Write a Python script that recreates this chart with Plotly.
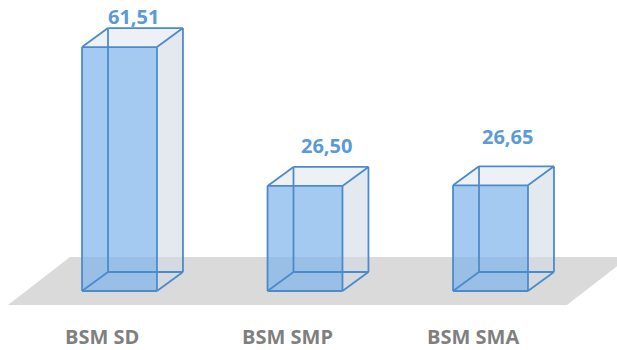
import plotly.graph_objects as go

# ---- data ----
categories = ["BSM SD", "BSM SMP", "BSM SMA"]
values = [61.51, 26.50, 26.65]

# ---- style / layout constants ----
W, H = 617, 350
BAR_W = 0.404          # front-face width (category units)
DEPTH_DX = 0.140       # perspective depth, x (category units)
DEPTH_DY = 4.79        # perspective depth, y (value units)
X_RANGE = [-0.6442, 2.6819]
Y_RANGE = [-14.876, 73.374]
FLOOR = dict(front_y=-3.53, back_y=8.57, fl=-0.601, bl=-0.267, fr=2.412, br=2.747)
LABEL_DX = [0.075, 0.116, 0.092]     # value-label horizontal shift
LABEL_DY = [2.9, 5.4, 7.6]           # value-label gap above the back top edge
CAT_DX = -0.097
CAT_Y = -11.5

EDGE = "#4C8BCB"
FRONT_FILL = "rgba(125,180,235,0.70)"
SIDE_FILL = "rgba(210,218,228,0.60)"
TOP_FILL = "rgba(228,234,240,0.65)"
FLOOR_FILL = "#DADADA"
VAL_COLOR = "#5B9BD5"
CAT_COLOR = "#7F7F7F"

fig = go.Figure()

# floor
fig.add_trace(go.Scatter(
    x=[FLOOR["fl"], FLOOR["fr"], FLOOR["br"], FLOOR["bl"], FLOOR["fl"]],
    y=[FLOOR["front_y"], FLOOR["front_y"], FLOOR["back_y"], FLOOR["back_y"], FLOOR["front_y"]],
    fill="toself", fillcolor=FLOOR_FILL, mode="lines", line=dict(width=0),
    hoverinfo="skip", showlegend=False))


def poly(xs, ys, fillcolor):
    fig.add_trace(go.Scatter(x=xs + [xs[0]], y=ys + [ys[0]], fill="toself",
                             fillcolor=fillcolor, mode="lines", line=dict(width=0),
                             hoverinfo="skip", showlegend=False))


for i, (cat, v) in enumerate(zip(categories, values)):
    x0, x1 = i - BAR_W / 2, i + BAR_W / 2
    bx0, bx1 = x0 + DEPTH_DX, x1 + DEPTH_DX
    y0, y1 = 0.0, v
    by0, by1 = y0 + DEPTH_DY, y1 + DEPTH_DY
    # right side face
    poly([x1, bx1, bx1, x1], [y0, by0, by1, y1], SIDE_FILL)
    # top face
    poly([x0, x1, bx1, bx0], [y1, y1, by1, by1], TOP_FILL)
    # front face
    poly([x0, x1, x1, x0], [y0, y0, y1, y1], FRONT_FILL)
    # wireframe edges (all 12)
    ex, ey = [], []
    segs = [
        ((x0, y0), (x1, y0)), ((x1, y0), (x1, y1)), ((x1, y1), (x0, y1)), ((x0, y1), (x0, y0)),
        ((bx0, by0), (bx1, by0)), ((bx1, by0), (bx1, by1)), ((bx1, by1), (bx0, by1)), ((bx0, by1), (bx0, by0)),
        ((x0, y0), (bx0, by0)), ((x1, y0), (bx1, by0)), ((x1, y1), (bx1, by1)), ((x0, y1), (bx0, by1)),
    ]
    for (a, b) in segs:
        ex += [a[0], b[0], None]
        ey += [a[1], b[1], None]
    fig.add_trace(go.Scatter(x=ex, y=ey, mode="lines", line=dict(color=EDGE, width=1.8),
                             hoverinfo="skip", showlegend=False))
    # value label
    fig.add_annotation(x=i + LABEL_DX[i], y=by1 + LABEL_DY[i],
                       text=f"<b>{v:.2f}</b>".replace(".", ","), showarrow=False,
                       xanchor="center", yanchor="middle",
                       font=dict(family="Open Sans", size=20, color=VAL_COLOR))
    # category label
    fig.add_annotation(x=i + CAT_DX, y=CAT_Y, text=f"<b>{cat}</b>", showarrow=False,
                       xanchor="center", yanchor="middle",
                       font=dict(family="Open Sans", size=20, color=CAT_COLOR))

fig.update_layout(
    width=W, height=H, autosize=False,
    margin=dict(l=0, r=0, t=0, b=0),
    paper_bgcolor="white", plot_bgcolor="white",
    xaxis=dict(range=X_RANGE, visible=False, fixedrange=True),
    yaxis=dict(range=Y_RANGE, visible=False, fixedrange=True),
    showlegend=False,
)

fig.write_html("out.html", config={"displayModeBar": False})
